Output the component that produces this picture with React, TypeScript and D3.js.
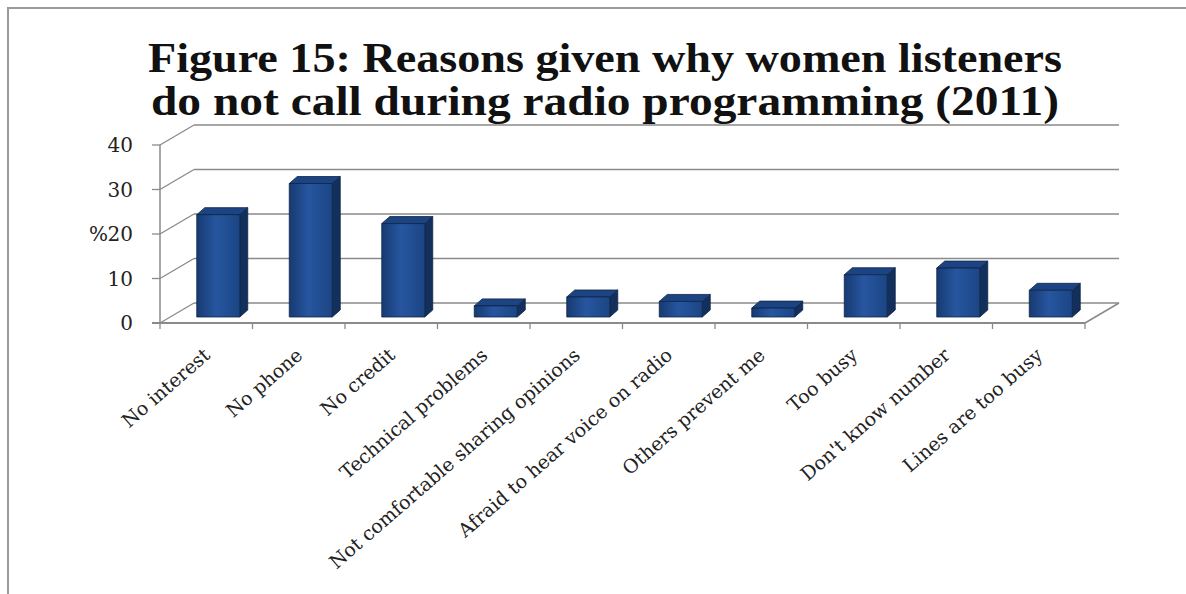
import React from "react";
import * as d3 from "d3";

const categories = [
  "No interest",
  "No phone",
  "No credit",
  "Technical problems",
  "Not comfortable sharing opinions",
  "Afraid to hear voice on radio",
  "Others prevent me",
  "Too busy",
  "Don't know number",
  "Lines are too busy",
];
const values = [23, 30, 21, 2.5, 4.5, 3.5, 2, 9.5, 11, 6];
const yTicks = [0, 10, 20, 30, 40];
const titleLines = [
  "Figure 15: Reasons given why women listeners",
  "do not call during radio programming (2011)",
];
const yAxisTitle = "%";

export default function App() {
  const W = 1186, H = 594;
  const left = 160, right = 1085, floorY = 323, topY = 145;
  const depthX = 34, depthY = -20;
  const x = d3.scaleBand<string>().domain(categories).range([left, right]).padding(0);
  const y = d3.scaleLinear().domain([0, 40]).range([floorY, topY]);
  const bw = x.bandwidth();
  const barW = 43;
  const barShiftX = 12, barShiftY = -6;
  const barDX = 8, barDY = -7;
  const gridColor = "#8a8a8a";
  const font = "'DejaVu Serif', serif";
  const titleFont = "'Liberation Serif', 'Times New Roman', serif";

  return (
    <svg width={W} height={H} style={{ position: "absolute", left: 0, top: 0, background: "#fff" }}>
      <defs>
        <linearGradient id="frontGrad" x1="0" x2="1" y1="0" y2="0">
          <stop offset="0" stopColor="#173a72" />
          <stop offset="0.45" stopColor="#2756a0" />
          <stop offset="1" stopColor="#1b4584" />
        </linearGradient>
      </defs>
      <rect x={8} y={8} width={1200} height={620} fill="#fff" stroke="#9a9a9a" strokeWidth={2} />
      {titleLines.map((t, i) => (
        <text
          key={i}
          x={605}
          y={72 + i * 43}
          textAnchor="middle"
          fontFamily={titleFont}
          fontWeight="bold"
          fontSize={42}
          textLength={i === 0 ? 914 : 908}
          lengthAdjust="spacingAndGlyphs"
          fill="#111"
        >
          {t}
        </text>
      ))}
      {/* back wall gridlines */}
      {yTicks.map((t) => (
        <g key={"g" + t}>
          <line x1={left + depthX} x2={right + depthX} y1={y(t) + depthY} y2={y(t) + depthY} stroke={gridColor} strokeWidth={1.5} />
          <line x1={left} x2={left + depthX} y1={y(t)} y2={y(t) + depthY} stroke={gridColor} strokeWidth={1.3} />
          <line x1={left - 8} x2={left} y1={y(t)} y2={y(t)} stroke={gridColor} strokeWidth={1.3} />
          <text x={133} y={y(t)} dy="0.35em" textAnchor="end" fontFamily={font} fontSize={20} fill="#222">
            {t}
          </text>
        </g>
      ))}
      <text x={108} y={y(20)} dy="0.35em" textAnchor="end" fontFamily={font} fontSize={20} fill="#222">
        {yAxisTitle}
      </text>
      {/* left axis and floor */}
      <line x1={left} x2={left} y1={y(40)} y2={y(0)} stroke={gridColor} strokeWidth={1.5} />
      <line x1={left - 8} x2={right} y1={floorY} y2={floorY} stroke={gridColor} strokeWidth={1.8} />
      <line x1={right} x2={right + depthX} y1={floorY} y2={floorY + depthY} stroke={gridColor} strokeWidth={1.5} />
      {categories.map((c, i) => (
        <line key={"t" + i} x1={x(c)!} x2={x(c)!} y1={floorY} y2={floorY + 6} stroke={gridColor} strokeWidth={1.3} />
      ))}
      <line x1={right} x2={right} y1={floorY} y2={floorY + 6} stroke={gridColor} strokeWidth={1.3} />
      {/* bars */}
      {categories.map((c, i) => {
        const x0 = x(c)! + (bw - barW) / 2 + barShiftX;
        const x1 = x0 + barW;
        const yb = y(0) + barShiftY;
        const yt = y(values[i]) + barShiftY;
        const front = `M${x0},${yb}L${x1},${yb}L${x1},${yt}L${x0},${yt}Z`;
        const side = `M${x1},${yb}L${x1 + barDX},${yb + barDY}L${x1 + barDX},${yt + barDY}L${x1},${yt}Z`;
        const top = `M${x0},${yt}L${x1},${yt}L${x1 + barDX},${yt + barDY}L${x0 + barDX},${yt + barDY}Z`;
        return (
          <g key={"b" + i} stroke="#0e2548" strokeWidth={0.8} strokeLinejoin="round">
            <path d={side} fill="#132f5c" />
            <path d={top} fill="#1d4482" />
            <path d={front} fill="url(#frontGrad)" />
          </g>
        );
      })}
      {/* category labels */}
      {categories.map((c, i) => {
        const cx = x(c)! + bw / 2 + 5;
        const cy = 357;
        return (
          <text
            key={"l" + i}
            transform={`translate(${cx},${cy}) rotate(-41)`}
            textAnchor="end"
            fontFamily={font}
            fontSize={19}
            fill="#222"
          >
            {c}
          </text>
        );
      })}
    </svg>
  );
}
